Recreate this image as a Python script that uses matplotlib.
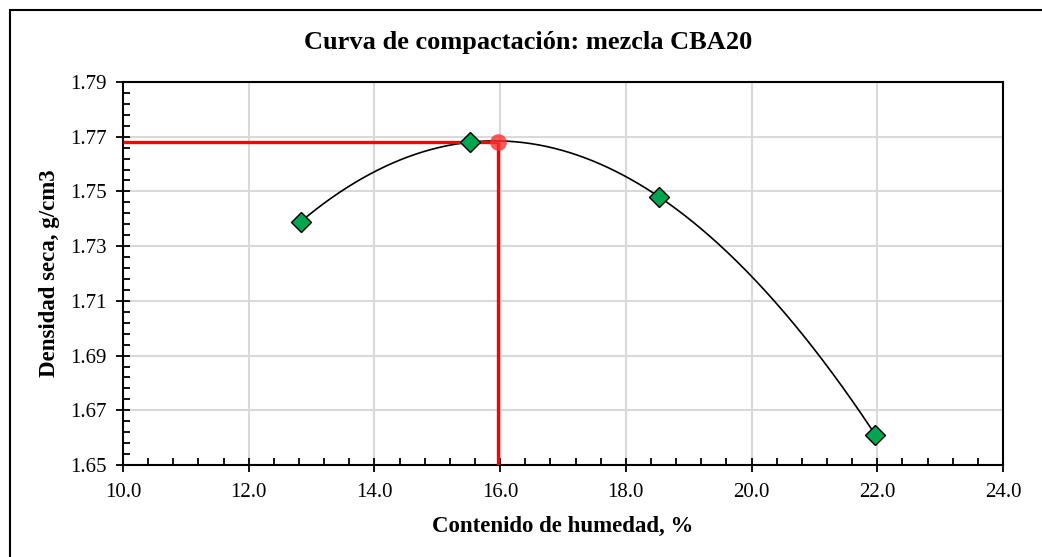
import numpy as np
import matplotlib
matplotlib.use("Agg")
import matplotlib.pyplot as plt
from matplotlib.ticker import FixedLocator, FormatStrFormatter
from matplotlib.patches import Rectangle

# Data
humedad = [12.83, 15.52, 18.53, 21.97]
densidad = [1.739, 1.768, 1.748, 1.661]
w_opt = 15.96
d_max = 1.768
x_ticks = [10.0, 12.0, 14.0, 16.0, 18.0, 20.0, 22.0, 24.0]
y_ticks = [1.65, 1.67, 1.69, 1.71, 1.73, 1.75, 1.77, 1.79]
title = "Curva de compactación: mezcla CBA20"
xlabel = "Contenido de humedad, %"
ylabel = "Densidad seca, g/cm3"

plt.rcParams['font.family'] = ['Liberation Serif', 'DejaVu Serif']

fig = plt.figure(figsize=(10.42, 5.57), dpi=100)
ax = fig.add_axes([123/1042, 1 - 465/557, (1003-123)/1042, (465-82)/557])

# outer border
fig.patches.append(Rectangle((10/1042, -0.05), 1.2, 1 - 10/557 + 0.05, transform=fig.transFigure,
                             fill=False, edgecolor='black', linewidth=1.5, zorder=0))

# curve: cubic trend through the data
coef = np.polyfit(humedad, densidad, 3)
xs = np.linspace(min(humedad), max(humedad), 300)
ax.plot(xs, np.polyval(coef, xs), color='black', lw=1.2, zorder=3)

# red guide lines
ax.plot([x_ticks[0], w_opt], [d_max, d_max], color='#ff0000', lw=2.4, zorder=4, solid_capstyle='butt')
ax.plot([w_opt, w_opt], [y_ticks[0], d_max], color='#ff0000', lw=2.4, zorder=4, solid_capstyle='butt')

ax.plot(humedad, densidad, linestyle='none', marker='D', ms=10, mfc='#00a550', mec='black',
        mew=1.0, zorder=5)
ax.plot([w_opt], [d_max], linestyle='none', marker='o', ms=12, mfc='#ff3030', mec='none',
        alpha=0.8, zorder=6)

ax.set_xlim(x_ticks[0], x_ticks[-1])
ax.set_ylim(y_ticks[0], y_ticks[-1])
ax.xaxis.set_major_locator(FixedLocator(x_ticks))
ax.yaxis.set_major_locator(FixedLocator(y_ticks))
ax.xaxis.set_minor_locator(FixedLocator(np.linspace(x_ticks[0], x_ticks[-1], 5*(len(x_ticks)-1)+1)))
ax.yaxis.set_minor_locator(FixedLocator(np.linspace(y_ticks[0], y_ticks[-1], 5*(len(y_ticks)-1)+1)))
ax.xaxis.set_major_formatter(FormatStrFormatter('%.1f'))
ax.yaxis.set_major_formatter(FormatStrFormatter('%.2f'))

ax.grid(True, which='major', color='#d9d9d9', lw=1.5, zorder=0)
ax.set_axisbelow(True)
for s in ax.spines.values():
    s.set_linewidth(1.5)
    s.set_color('black')

ax.tick_params(axis='both', which='major', direction='inout', length=10, width=1.3,
               labelsize=15)
ax.tick_params(axis='y', which='major', pad=7)
ax.tick_params(axis='x', which='major', pad=8)
ax.tick_params(axis='both', which='minor', direction='in', length=5, width=1.3)

ax.set_xlabel(xlabel, fontsize=16.5, fontweight='bold', labelpad=10)
ax.set_ylabel(ylabel, fontsize=16.5, fontweight='bold', labelpad=7)
fig.text(528/1042, 1 - 43/557, title, ha='center', va='center', fontsize=19,
         fontweight='bold')

fig.savefig('out.png', dpi=100)
